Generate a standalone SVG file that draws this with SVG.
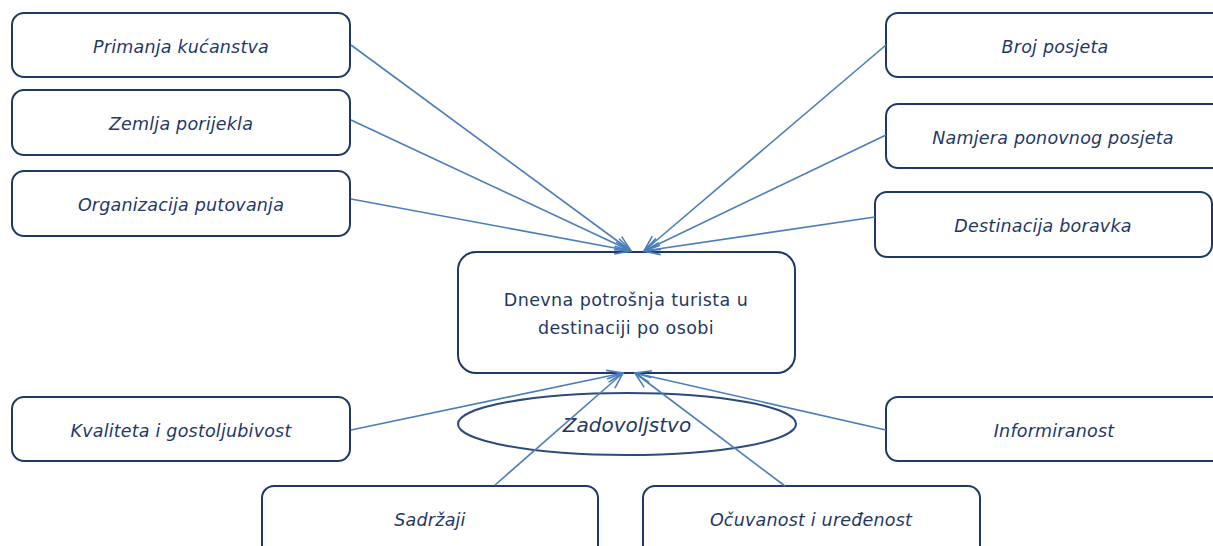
<svg xmlns="http://www.w3.org/2000/svg" width="1213" height="546" viewBox="0 0 1213 546">
<defs>
<style>
.box{fill:#fff;stroke:#1f3868;stroke-width:2}
.t{font-family:"DejaVu Sans",sans-serif;font-size:17.5px;font-style:italic;fill:#1f3868;text-anchor:middle;letter-spacing:0.2px}
.c{font-family:"DejaVu Sans",sans-serif;font-size:17.5px;fill:#1f3868;text-anchor:middle;letter-spacing:0.4px}
.ln{stroke:#4a7ebb;stroke-width:1.6;fill:none;marker-end:url(#ah)}
</style>
<marker id="ah" viewBox="0 0 18 14" refX="17" refY="7" markerWidth="18" markerHeight="14" markerUnits="userSpaceOnUse" orient="auto">
<path d="M1,1 L17,7 L1,13" fill="none" stroke="#4a7ebb" stroke-width="1.6"/>
</marker>
</defs>
<rect width="1213" height="546" fill="#fff"/>
<g id="n-primanja"><rect class="box" x="12" y="13" width="338" height="64" rx="12"/><text class="t" x="181" y="53">Primanja kućanstva</text></g>
<g id="n-zemlja"><rect class="box" x="12" y="90" width="338" height="65" rx="12"/><text class="t" x="181" y="130">Zemlja porijekla</text></g>
<g id="n-organizacija"><rect class="box" x="12" y="171" width="338" height="65" rx="12"/><text class="t" x="181" y="211">Organizacija putovanja</text></g>
<g id="n-broj"><rect class="box" x="886" y="13" width="340" height="64" rx="12"/><text class="t" x="1055" y="53">Broj posjeta</text></g>
<g id="n-namjera"><rect class="box" x="886" y="104" width="340" height="64" rx="12"/><text class="t" x="1053" y="144">Namjera ponovnog posjeta</text></g>
<g id="n-destinacija"><rect class="box" x="875" y="192" width="337" height="65" rx="12"/><text class="t" x="1043" y="232">Destinacija boravka</text></g>
<g id="n-dnevna"><rect class="box" x="458" y="252" width="337" height="121" rx="18"/><text class="c" x="626" y="306">Dnevna potrošnja turista u</text><text class="c" x="626" y="334">destinaciji po osobi</text></g>
<g id="n-kvaliteta"><rect class="box" x="12" y="397" width="338" height="64" rx="12"/><text class="t" x="181" y="437">Kvaliteta i gostoljubivost</text></g>
<g id="n-informiranost"><rect class="box" x="886" y="397" width="340" height="64" rx="12"/><text class="t" x="1054" y="437">Informiranost</text></g>
<g id="n-sadrzaji"><rect class="box" x="262" y="486" width="336" height="80" rx="12"/><text class="t" x="430" y="526">Sadržaji</text></g>
<g id="n-ocuvanost"><rect class="box" x="643" y="486" width="337" height="80" rx="12"/><text class="t" x="811" y="526">Očuvanost i uređenost</text></g>
<g id="n-zadovoljstvo"><ellipse cx="627" cy="424" rx="169" ry="31" fill="none" stroke="#2c4a7c" stroke-width="2"/><text x="627" y="432" font-family="DejaVu Sans,sans-serif" font-size="20" font-style="italic" fill="#1f3868" text-anchor="middle">Zadovoljstvo</text></g>
<g id="connectors">
<line class="ln" x1="351" y1="45" x2="631" y2="251"/>
<line class="ln" x1="351" y1="120" x2="631" y2="251"/>
<line class="ln" x1="351" y1="199" x2="631" y2="251"/>
<line class="ln" x1="886" y1="45" x2="644" y2="251"/>
<line class="ln" x1="886" y1="135" x2="644" y2="251"/>
<line class="ln" x1="875" y1="217" x2="644" y2="251"/>
<line class="ln" x1="351" y1="430" x2="623" y2="373"/>
<line class="ln" x1="495" y1="485" x2="623" y2="373"/>
<line class="ln" x1="886" y1="430" x2="635" y2="373"/>
<line class="ln" x1="785" y1="486" x2="635" y2="373"/>
</g>
</svg>
